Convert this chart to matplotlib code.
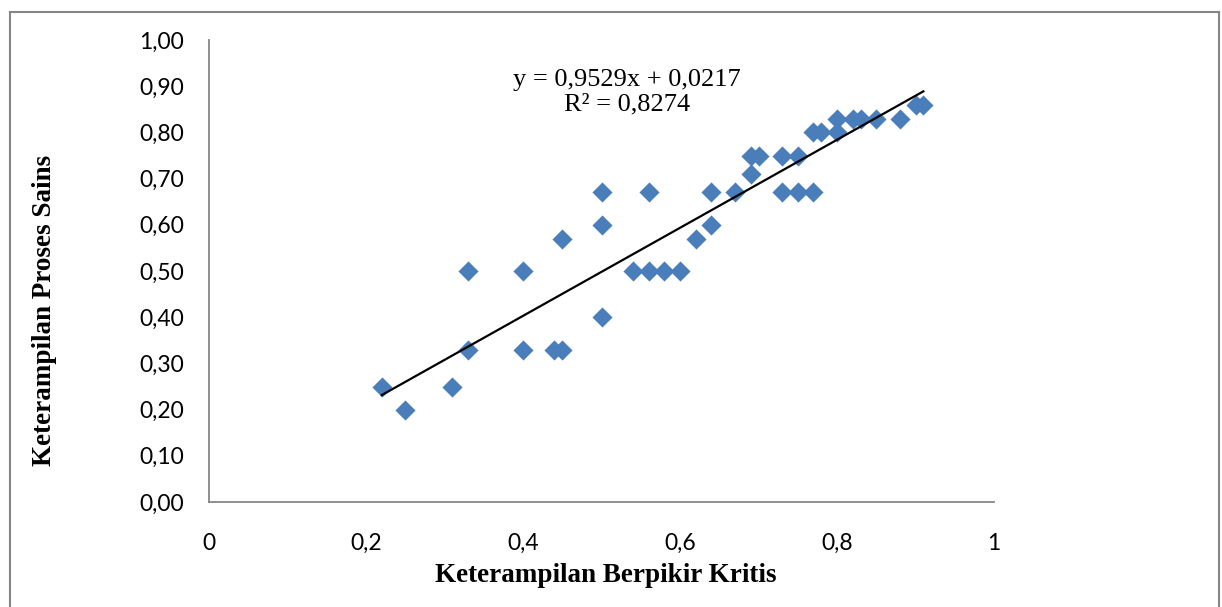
import matplotlib
matplotlib.use("Agg")
import matplotlib.pyplot as plt
from matplotlib.lines import Line2D
import numpy as np

# Data
x_kbk = [0.22, 0.25, 0.31, 0.33, 0.33, 0.40, 0.40, 0.44, 0.45, 0.45,
         0.50, 0.50, 0.50, 0.54, 0.56, 0.56, 0.58, 0.60, 0.62, 0.64,
         0.64, 0.67, 0.69, 0.69, 0.70, 0.73, 0.75, 0.73, 0.75, 0.77,
         0.77, 0.78, 0.80, 0.80, 0.82, 0.83, 0.85, 0.88, 0.90, 0.91]
y_kps = [0.25, 0.20, 0.25, 0.50, 0.33, 0.50, 0.33, 0.33, 0.33, 0.57,
         0.67, 0.60, 0.40, 0.50, 0.67, 0.50, 0.50, 0.50, 0.57, 0.60,
         0.67, 0.67, 0.71, 0.75, 0.75, 0.75, 0.75, 0.67, 0.67, 0.67,
         0.80, 0.80, 0.80, 0.83, 0.83, 0.83, 0.83, 0.83, 0.86, 0.86]

slope = 0.9529
intercept = 0.0217
r2 = 0.8274

x_ticks = [0, 0.2, 0.4, 0.6, 0.8, 1]
x_tick_labels = ["0", "0,2", "0,4", "0,6", "0,8", "1"]
y_ticks = [0.0, 0.1, 0.2, 0.3, 0.4, 0.5, 0.6, 0.7, 0.8, 0.9, 1.0]
y_tick_labels = ["0,00", "0,10", "0,20", "0,30", "0,40", "0,50",
                 "0,60", "0,70", "0,80", "0,90", "1,00"]

W, H = 1222, 607
fig = plt.figure(figsize=(W / 100, H / 100), dpi=100)
fig.patch.set_facecolor("white")

ax = fig.add_axes([209 / W, 1 - 502 / H, (994 - 209) / W, (502 - 40) / H])
ax.set_xlim(0, 1)
ax.set_ylim(0, 1)

ax.scatter(x_kbk, y_kps, marker="D", s=105, color="#4a7ebb", linewidths=0, zorder=3)

xl = np.array([min(x_kbk), max(x_kbk)])
ax.plot(xl, slope * xl + intercept, color="black", lw=1.6, zorder=4)

for side in ["top", "right"]:
    ax.spines[side].set_visible(False)
for side in ["left", "bottom"]:
    ax.spines[side].set_color("#868686")
    ax.spines[side].set_linewidth(1.3)

ax.set_xticks(x_ticks)
ax.set_xticklabels(x_tick_labels, fontfamily="Lato", fontsize=16.5)
ax.set_yticks(y_ticks)
ax.set_yticklabels(y_tick_labels, fontfamily="Lato", fontsize=16.5)
ax.tick_params(axis="both", length=0)
ax.tick_params(axis="x", pad=22)
ax.tick_params(axis="y", pad=18)

ax.set_xlabel("Keterampilan Berpikir Kritis", fontfamily="Liberation Serif",
              fontweight="bold", fontsize=19.5, va="center")
ax.xaxis.set_label_coords(0.505, -0.16)
ax.set_ylabel("Keterampilan Proses Sains", fontfamily="Liberation Serif",
              fontweight="bold", fontsize=19.5, va="center")
ax.yaxis.set_label_coords(-0.209, 0.415)

eq_text = "y = 0,9529x + 0,0217\nR² = 0,8274"
ax.text(0.532, 0.887, eq_text, transform=ax.transAxes, ha="center", va="center",
        fontfamily="Liberation Serif", fontsize=19, linespacing=1.15)

# outer chart border
c = "#868686"
fig.add_artist(Line2D([10 / W, 10 / W], [0, 1 - 12 / H], color=c, lw=1.5, transform=fig.transFigure))
fig.add_artist(Line2D([10 / W, 1219 / W], [1 - 12 / H, 1 - 12 / H], color=c, lw=1.5, transform=fig.transFigure))
fig.add_artist(Line2D([1219 / W, 1219 / W], [0, 1 - 12 / H], color=c, lw=1.5, transform=fig.transFigure))

fig.savefig("out.png", dpi=100)
